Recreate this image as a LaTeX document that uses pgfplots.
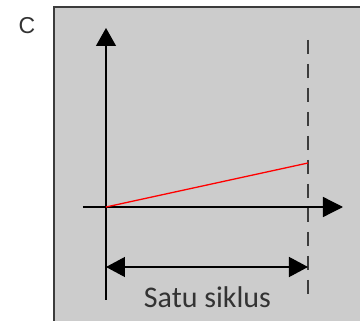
\documentclass[border=0pt]{standalone}
\usepackage{pgfplots}
\pgfplotsset{compat=1.18}
\usepackage{fontspec}
\usetikzlibrary{arrows.meta}
\newfontfamily\carlito{Carlito}
\newfontfamily\arialf{Liberation Sans}
\definecolor{bg}{HTML}{CCCCCC}
\definecolor{bord}{HTML}{3C3C3C}
\definecolor{txt}{HTML}{333333}
\begin{document}
\begin{tikzpicture}
\begin{axis}[scale only axis, width=360pt, height=321pt,
  xmin=0, xmax=360, ymin=0, ymax=321, y dir=reverse,
  axis lines=none, clip=true]
\addplot[fill=bg, draw=none] coordinates {(54,7) (360,7) (360,321) (54,321)} -- cycle;
\addplot[draw=bord, line width=2pt] coordinates {(54,321) (54,7) (360,7)};
% dashed cycle end
\addplot[draw=bord, line width=2pt, dash pattern=on 14pt off 10pt] coordinates {(308,40) (308,296)};
% axes
\addplot[black, line width=1.3pt, -{Triangle[length=18pt,width=20pt]}] coordinates {(106,300) (106,28)};
\addplot[black, line width=1.3pt, -{Triangle[length=20pt,width=20pt]}] coordinates {(83,207) (343,207)};
% red line
\addplot[red, line width=1.3pt] coordinates {(106,207) (308,163)};
% one cycle arrow
\addplot[black, line width=1.3pt, {Triangle[length=19pt,width=20pt]}-{Triangle[length=19pt,width=20pt]}] coordinates {(106,267) (308,267)};
\node[font=\arialf\fontsize{23}{23}\selectfont, text=txt] at (axis cs:27,25.5) {C};
\node[anchor=base, font=\carlito\fontsize{30}{30}\selectfont, text=txt, inner sep=0pt] at (axis cs:207.5,308) {Satu siklus};
\end{axis}
\pgfresetboundingbox
\path[use as bounding box] (current axis.south west) rectangle (current axis.north east);
\end{tikzpicture}
\end{document}
